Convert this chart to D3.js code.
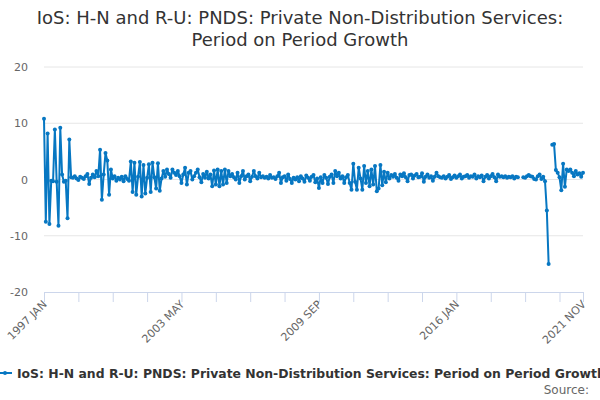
<!DOCTYPE html>
<html>
<head>
<meta charset="utf-8">
<script src="https://cdn.jsdelivr.net/npm/d3@7"></script>
<style>
    body { margin: 0; background: #fff; overflow: hidden; }
    text { font-family: "DejaVu Sans", sans-serif; }
</style>
</head>
<body>
<script>
/*global d3*/

var titleLines = ["IoS: H-N and R-U: PNDS: Private Non-Distribution Services:", "Period on Period Growth"];
var seriesName = "IoS: H-N and R-U: PNDS: Private Non-Distribution Services: Period on Period Growth";

var startYear = 1997;
var monthNames = ["JAN", "FEB", "MAR", "APR", "MAY", "JUN", "JUL", "AUG", "SEP", "OCT", "NOV", "DEC"];

/** monthly growth, % (null = no value published) **/
var growth = [
    10.8, -7.5, 8.2, -7.9, -0.2, -0.3, 8.9, -0.4, -8.2, 9.2,
    0.9, -0.4, -0.2, -6.9, 7.1, 0.4, 0.3, 0.6, 0.2, -0.1,
    0.5, 0.3, 0.1, 0.6, 1.0, -0.8, 0.3, 0.9, 0.4, 1.5,
    0.6, 5.3, -3.6, 0.9, 4.7, 3.4, -2.7, 1.8, 0.2, 0.6,
    -0.2, 0.3, 0.0, 0.5, -0.3, 0.6, 0.1, -0.2, 3.2, -2.2,
    3.0, -2.7, 0.5, 3.1, -3.0, 2.6, -2.5, 0.3, 2.7, -2.2,
    3.0, 0.4, -1.6, 2.9, -2.0, 0.2, 1.5, 0.5, 1.8, 1.0,
    0.3, 1.8, 1.2, 0.8, 1.5, 0.6, -0.6, 0.9, 2.1, -0.9,
    1.2, 1.5, 0.0, 0.6, 1.2, 1.8, 0.4, -0.5, 1.0, 0.3,
    1.4, 0.2, 0.9, -1.2, 1.6, -0.9, 1.8, -1.2, 1.5, -0.9,
    1.8, -0.6, 1.5, 0.6, 1.0, 0.4, 0.0, 1.2, -0.6, 0.6,
    1.5, 0.0, 0.6, 0.9, -0.3, 0.5, 1.5, 0.6, 0.2, 1.2,
    0.4, 0.6, 0.3, 0.5, 0.2, 0.8, 0.3, 0.4, 0.1, 0.6,
    1.2, -0.6, 0.4, 0.6, -0.2, 0.9, 0.1, -0.6, 0.3, 0.0,
    0.4, -0.3, 0.6, 0.2, -0.4, 0.7, 0.3, -0.2, 0.5, 0.8,
    -0.5, 0.2, -1.5, 0.4, -0.6, 0.8, 0.3, -0.8, 0.5, 0.9,
    -0.6, 1.5, 0.6, 1.2, 0.2, 0.6, -0.6, 0.4, 0.8, -0.6,
    -1.8, 2.8, -0.4, -1.8, 2.1, 0.2, -1.8, 2.4, -0.6, 1.5,
    -1.2, 1.8, -0.9, 2.4, -2.1, -1.6, 2.6, -1.0, 1.4, -0.5,
    1.2, 0.2, 0.8, 0.5, 1.0, 0.3, -0.2, 0.9, 0.6, 1.1,
    0.4, -0.3, 0.8, 0.9, 0.2, 0.7, 1.0, 0.4, 0.5, 1.1,
    -0.4, 0.5, 0.9, 0.3, 0.6, -0.2, 0.5, 1.2, 0.6, 0.4,
    0.3, 0.6, 0.2, 0.5, 0.8, 0.1, 0.4, 0.7, 0.3, 0.6,
    0.9, 0.2, 0.5, 0.6, 0.8, 0.3, 0.6, 0.5, 0.9, 0.2,
    0.6, 0.4, 0.7, -0.3, 0.5, 0.8, 0.2, 0.6, 1.0, 0.4,
    -0.3, 0.9, 0.5, 0.6, 0.4, 0.6, 0.3, 0.5, 0.4, 0.6,
    0.2, 0.5, 0.4, null, null, 0.4, 0.3, 0.6, 0.8, 0.6,
    0.5, 0.1, 0.0, 0.6, 0.9, 0.1, 0.5, -0.3, -5.5, -15.0,
    null, 6.2, 6.3, 1.7, 1.2, 0.4, -1.9, 2.8, -1.3, 1.8,
    1.5, 1.8, 1.2, 0.6, 1.5, 0.9, 1.1, 0.5, 1.2
];

var yTicks = [-20, -10, 0, 10, 20];
var labelledMonths = ["1997 JAN", "2003 MAY", "2009 SEP", "2016 JAN", "2021 NOV"];
var tickEvery = 19;

var categories = growth.map(function (v, i) {
    return (startYear + Math.floor(i / 12)) + " " + monthNames[i % 12];
});

window.onload = function () {
    var width = 600,
        height = 400,
        left = 44,
        right = 583,
        top = 67,
        bottom = 292,
        colour = "#0777c2";

    var svg = d3.select("body").append("svg")
        .attr("width", width)
        .attr("height", height);

    var x = d3.scalePoint().domain(categories).range([left, right]);
    var y = d3.scaleLinear().domain([-20, 20]).range([bottom, top]);

    /** Title **/
    svg.append("g").selectAll("text")
        .data(titleLines)
        .enter().append("text")
        .attr("x", width / 2)
        .attr("y", function (d, i) { return 24 + i * 22; })
        .attr("text-anchor", "middle")
        .attr("font-size", 18)
        .attr("fill", "#333")
        .text(function (d) { return d; });

    /** Horizontal grid **/
    svg.append("g").selectAll("line")
        .data(yTicks.filter(function (t) { return t !== -20; }))
        .enter().append("line")
        .attr("x1", left)
        .attr("x2", right)
        .attr("y1", function (d) { return y(d); })
        .attr("y2", function (d) { return y(d); })
        .attr("stroke", "#e6e6e6");

    /** Y labels **/
    svg.append("g").selectAll("text")
        .data(yTicks)
        .enter().append("text")
        .attr("x", 28)
        .attr("y", function (d) { return y(d) + 4; })
        .attr("text-anchor", "end")
        .attr("font-size", 11)
        .attr("fill", "#666")
        .text(function (d) { return d; });

    /** X axis **/
    var tickMonths = categories.filter(function (c, i) {
        return i % tickEvery === 0 || i === categories.length - 1;
    });

    var xAxis = svg.append("g")
        .attr("transform", "translate(0," + bottom + ")")
        .call(d3.axisBottom(x)
            .tickValues(tickMonths)
            .tickSize(10)
            .tickSizeOuter(0)
            .tickFormat(function (d) { return labelledMonths.indexOf(d) >= 0 ? d : ""; }));

    xAxis.select(".domain").attr("stroke", "#ccd6eb");
    xAxis.selectAll(".tick line").attr("stroke", "#ccd6eb");
    xAxis.selectAll(".tick text")
        .attr("font-family", "DejaVu Sans, sans-serif")
        .attr("font-size", 11)
        .attr("fill", "#666")
        .attr("text-anchor", "end")
        .attr("x", 0)
        .attr("y", 0)
        .attr("dy", 0)
        .attr("transform", "translate(3,13) rotate(-45)");

    /** The series **/
    var line = d3.line()
        .defined(function (d) { return d !== null; })
        .x(function (d, i) { return x(categories[i]); })
        .y(function (d) { return y(d); });

    svg.append("path")
        .datum(growth)
        .attr("d", line)
        .attr("fill", "none")
        .attr("stroke", colour)
        .attr("stroke-width", 2)
        .attr("stroke-linejoin", "round");

    svg.append("g").selectAll("circle")
        .data(growth.map(function (v, i) { return { v: v, c: categories[i] }; })
            .filter(function (d) { return d.v !== null; }))
        .enter().append("circle")
        .attr("cx", function (d) { return x(d.c); })
        .attr("cy", function (d) { return y(d.v); })
        .attr("r", 2)
        .attr("fill", colour);

    /** Legend **/
    var legend = svg.append("g").attr("transform", "translate(0,373)");
    legend.append("line")
        .attr("x1", -2).attr("x2", 12)
        .attr("stroke", colour).attr("stroke-width", 2);
    legend.append("circle")
        .attr("cx", 5).attr("r", 2).attr("fill", colour);
    legend.append("text")
        .attr("x", 17)
        .attr("y", 4.5)
        .attr("font-size", 12.4)
        .attr("font-weight", "bold")
        .attr("fill", "#333")
        .text(seriesName);

    /** Source **/
    svg.append("text")
        .attr("x", 589)
        .attr("y", 394)
        .attr("text-anchor", "end")
        .attr("font-size", 12)
        .attr("fill", "#666")
        .text("Source:");
};
</script>
</body>
</html>
